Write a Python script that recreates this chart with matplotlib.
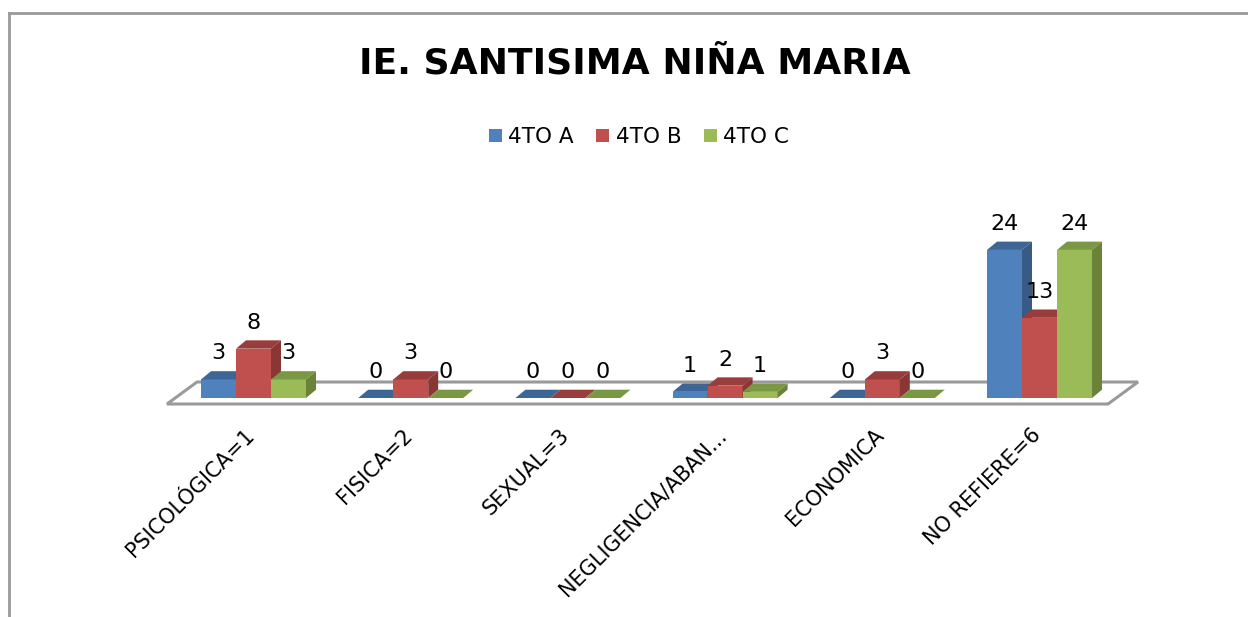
import matplotlib
matplotlib.use('Agg')
import matplotlib.pyplot as plt
from matplotlib.patches import Polygon, Patch
from matplotlib.lines import Line2D

# ---------------- data ----------------
categories = ['PSICOLÓGICA=1', 'FISICA=2', 'SEXUAL=3',
              'NEGLIGENCIA/ABAN...', 'ECONOMICA', 'NO REFIERE=6']
series_names = ['4TO A', '4TO B', '4TO C']
vals_a = [3, 0, 0, 1, 0, 24]
vals_b = [8, 3, 0, 2, 3, 13]
vals_c = [3, 0, 0, 1, 0, 24]
chart_title = 'IE. SANTISIMA NIÑA MARIA'

series = [vals_a, vals_b, vals_c]
front_colors = ['#4F81BD', '#C0504D', '#9BBB59']
top_colors = ['#3D6595', '#983D3B', '#7A9744']
side_colors = ['#385A86', '#8A3634', '#6B8339']

FONT = ['DejaVu Sans']
plt.rcParams['font.family'] = FONT

W, H = 1248, 617
fig = plt.figure(figsize=(W / 100, H / 100), dpi=100)
ax = fig.add_axes([0, 0, 1, 1])

# map data space onto the pixel layout of the reference
x0px, pxcat = 253.5, 157.2      # category 0 center, px per category
y0px, pxunit = 398.0, 6.17      # baseline px, px per unit
ax.set_xlim(-x0px / pxcat, (W - x0px) / pxcat)
ax.set_ylim((y0px - H) / pxunit, y0px / pxunit)
ax.axis('off')

ddx = 10 / pxcat                 # bar depth offsets
ddy = 8.3 / pxunit
bw = 35 / pxcat                  # bar width

# floor
f_front = -6 / pxunit
f_back = 16 / pxunit
f_l, f_r = (167 - x0px) / pxcat, (1108 - x0px) / pxcat
f_sh = 30 / pxcat
floor = Polygon([(f_l, f_front), (f_r, f_front), (f_r + f_sh, f_back), (f_l + f_sh, f_back)],
                closed=True, facecolor='white', edgecolor='#9A9A9A', linewidth=2.2, zorder=1)
ax.add_patch(floor)

xs = list(range(len(categories)))
for s, vals in enumerate(series):
    off = (s - 1) * bw
    pos = [x + off for x in xs]
    ax.bar(pos, vals, width=bw, color=front_colors[s], edgecolor='none', zorder=3 + s)
    for p, v in zip(pos, vals):
        l, r = p - bw / 2, p + bw / 2
        top = Polygon([(l, v), (r, v), (r + ddx, v + ddy), (l + ddx, v + ddy)],
                      closed=True, facecolor=top_colors[s], edgecolor='none', zorder=3 + s)
        side = Polygon([(r, 0), (r + ddx, ddy), (r + ddx, v + ddy), (r, v)],
                       closed=True, facecolor=side_colors[s], edgecolor='none', zorder=3 + s)
        ax.add_patch(top)
        ax.add_patch(side)
        ax.text(p, v + 26 / pxunit, str(v), ha='center', va='center',
                fontsize=16, color='black', zorder=10)

# category labels
for x, c in zip(xs, categories):
    ax.text(x - 9 / pxcat, -27 / pxunit, c, rotation=45, ha='right', va='top',
            rotation_mode='anchor', fontsize=15, color='black')

# title
fig.text(635 / W, 1 - 63 / H, chart_title, ha='center', va='center',
         fontsize=26, fontweight='bold', color='black')

# legend
handles = [Patch(facecolor=c, edgecolor='none') for c in front_colors]
fig.legend(handles, series_names, loc='center', bbox_to_anchor=(639 / W, 1 - 137 / H),
           ncol=3, frameon=False, fontsize=15.5, handlelength=0.6, handleheight=0.6,
           handletextpad=0.3, columnspacing=1.05, borderaxespad=0)

# chart border (top and left edges visible)
fig.add_artist(Line2D([9 / W, 9 / W], [0, 1 - 13 / H], transform=fig.transFigure,
                      color='#999999', linewidth=2))
fig.add_artist(Line2D([9 / W, 1], [1 - 13 / H, 1 - 13 / H], transform=fig.transFigure,
                      color='#999999', linewidth=2))

fig.savefig('out.png', dpi=100)
